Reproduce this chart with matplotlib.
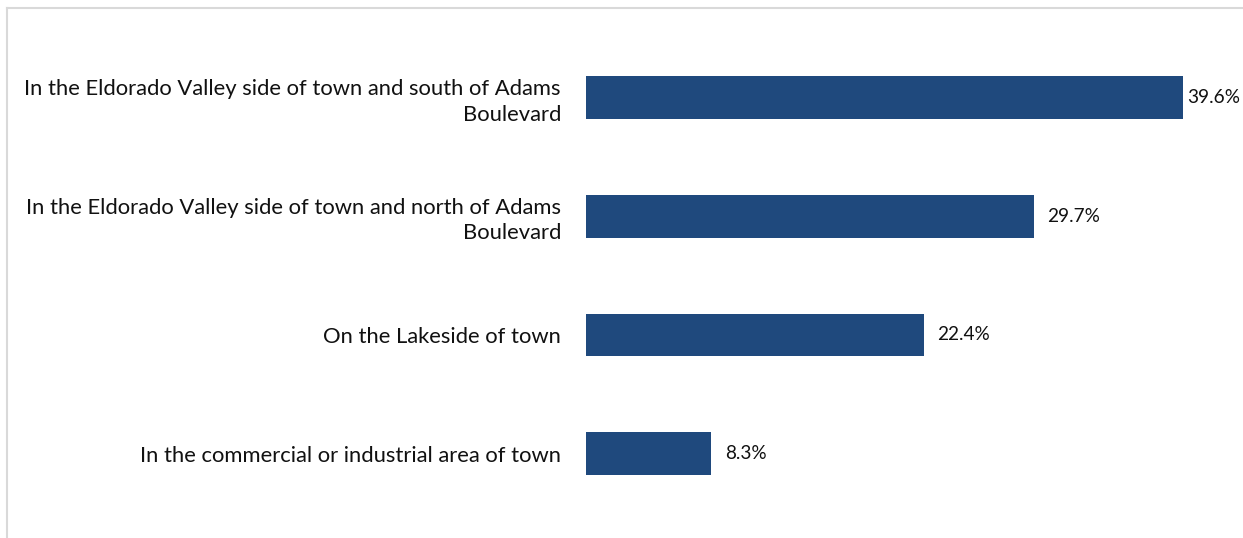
import matplotlib.pyplot as plt
from matplotlib.lines import Line2D

# dane
categories = [
    "In the Eldorado Valley side of town and south of Adams\nBoulevard",
    "In the Eldorado Valley side of town and north of Adams\nBoulevard",
    "On the Lakeside of town",
    "In the commercial or industrial area of town",
]
values = [39.6, 29.7, 22.4, 8.3]
value_labels = ["39.6%", "29.7%", "22.4%", "8.3%"]

W, H = 1243, 538
fig = plt.figure(figsize=(W / 100, H / 100), dpi=100)
plt.rcParams['font.family'] = ['Lato', 'DejaVu Sans']

# obszar wykresu
ax = fig.add_axes([586 / W, 1 - 513 / H, 648 / W, 475 / H])
ypos = list(range(len(categories)))
ax.barh(ypos, values, height=0.36, color='#1F497D')
ax.set_xlim(0, 43)
ax.set_ylim(len(categories) - 0.5, -0.5)

vmax = max(values)
for y, v, lab in zip(ypos, values, value_labels):
    # najdluzszy slupek - etykieta blizej, zeby sie zmiescila
    off = 3 if v == vmax else 10
    ax.annotate(lab, (v, y), xytext=(off, 0), textcoords='offset points',
                va='center', ha='left', fontsize=13.7, color='#111111')

ax.set_yticks(ypos)
ax.set_yticklabels(categories, fontsize=15.8, ha='right', color='#111111',
                   linespacing=1.33)
ax.tick_params(axis='y', length=0, pad=18)
ax.set_xticks([])
for s in ax.spines.values():
    s.set_visible(False)

# ramka wykresu (gora i lewa)
fig.add_artist(Line2D([7 / W, 1], [1 - 8 / H, 1 - 8 / H], color='#D9D9D9', lw=1.5))
fig.add_artist(Line2D([7 / W, 7 / W], [0, 1 - 8 / H], color='#D9D9D9', lw=1.5))

fig.savefig('out.png', dpi=100)
